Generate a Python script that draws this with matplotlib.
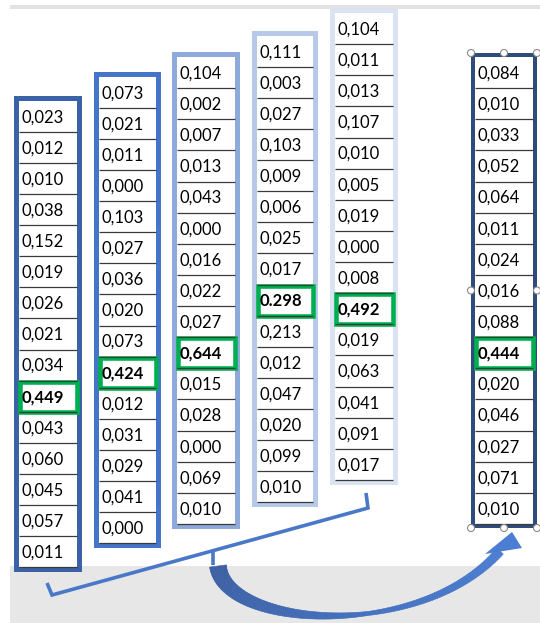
import numpy as np
import matplotlib
matplotlib.use("Agg")
import matplotlib.pyplot as plt
from matplotlib.patches import Rectangle, Polygon, Circle
from matplotlib.colors import to_rgb

# values of each column, top to bottom
col1 = ["0,023", "0,012", "0,010", "0,038", "0,152", "0,019", "0,026", "0,021",
        "0,034", "0,449", "0,043", "0,060", "0,045", "0,057", "0,011"]
col2 = ["0,073", "0,021", "0,011", "0,000", "0,103", "0,027", "0,036", "0,020",
        "0,073", "0,424", "0,012", "0,031", "0,029", "0,041", "0,000"]
col3 = ["0,104", "0,002", "0,007", "0,013", "0,043", "0,000", "0,016", "0,022",
        "0,027", "0,644", "0,015", "0,028", "0,000", "0,069", "0,010"]
col4 = ["0,111", "0,003", "0,027", "0,103", "0,009", "0,006", "0,025", "0,017",
        "0.298", "0,213", "0,012", "0,047", "0,020", "0,099", "0,010"]
col5 = ["0,104", "0,011", "0,013", "0,107", "0,010", "0,005", "0,019", "0,000",
        "0,008", "0,492", "0,019", "0,063", "0,041", "0,091", "0,017"]
result = ["0,084", "0,010", "0,033", "0,052", "0,064", "0,011", "0,024", "0,016",
          "0,088", "0,444", "0,020", "0,046", "0,027", "0,071", "0,010"]
highlight = [9, 9, 9, 8, 9, 9]

W, H = 540, 623
fig = plt.figure(figsize=(W / 100, H / 100), dpi=100)
ax = fig.add_axes([0, 0, 1, 1])
ax.set_xlim(0, W)
ax.set_ylim(H, 0)
ax.axis("off")

GREEN = "#00b050"

# background bands
ax.add_patch(Rectangle((10, 5), 530, 4, facecolor="#e2e2e2", edgecolor="none"))
ax.add_patch(Rectangle((10, 566), 530, 57, facecolor="#e7e7e7", edgecolor="none"))

# (x0, x1, y0, y1, border colour, border px) for each column frame
frames = [
    (14, 82, 96, 572, "#3b62a6", 5),
    (94, 161, 72, 548, "#4674c6", 5),
    (172, 240, 52, 529, "#8eaadb", 5),
    (252, 318, 31, 507, "#b7c9e8", 5),
    (330, 398, 8, 485, "#dbe3f3", 5),
    (471, 537, 53, 528, "#2f4b7c", 4),
]
columns = [col1, col2, col3, col4, col5, result]


def draw_column(vals, frame, hi):
    x0, x1, y0, y1, color, b = frame
    ax.add_patch(Rectangle((x0, y0), x1 - x0, y1 - y0, facecolor=color, edgecolor="none"))
    ix0, ix1, iy0, iy1 = x0 + b, x1 - b, y0 + b, y1 - b
    ax.add_patch(Rectangle((ix0, iy0), ix1 - ix0, iy1 - iy0, facecolor="white", edgecolor="none"))
    h = (iy1 - iy0) / len(vals)
    for i, v in enumerate(vals):
        top = iy0 + i * h
        ax.plot([ix0, ix1], [top + h, top + h], color="#3a3a3a", lw=0.9,
                solid_capstyle="butt")
        ax.text(ix0 + 3, top + h / 2 + 1, v, fontsize=12, family="Lato",
                fontweight="bold" if i == hi else "normal",
                ha="left", va="center", color="black")
    # green highlight of the maximum
    top = iy0 + hi * h
    ax.add_patch(Rectangle((ix0 + 0.5, top + 1), ix1 - ix0 - 1, h - 1, facecolor="none",
                           edgecolor=GREEN, lw=3.3, joinstyle="miter"))


for vals, frame, hi in zip(columns, frames, highlight):
    draw_column(vals, frame, hi)

# selection handles on the result column
x0, x1, y0, y1 = 471, 537, 53, 528
for hx, hy in [(x0, y0), ((x0 + x1) / 2, y0), (x1, y0), (x0, (y0 + y1) / 2),
               (x1, (y0 + y1) / 2), (x0, y1), ((x0 + x1) / 2, y1), (x1, y1)]:
    ax.add_patch(Circle((hx, hy), 3.5, facecolor="white", edgecolor="#8a8a8a", lw=0.8, zorder=5))

# bracket below the five columns
ax.plot([47, 52, 368, 366], [583, 595, 508, 493], color="#4a78c8", lw=2.6,
        solid_joinstyle="miter", solid_capstyle="butt")
ax.plot([213, 213], [551, 565], color="#4a78c8", lw=2.6, solid_capstyle="butt")

# curved tapered arrow to the result column
P = np.array([[218, 566], [225, 628], [420, 642], [500, 551]], dtype=float)
t = np.linspace(0, 1, 160)
tt = t[:, None]
curve = ((1 - tt) ** 3 * P[0] + 3 * (1 - tt) ** 2 * tt * P[1]
         + 3 * (1 - tt) * tt ** 2 * P[2] + tt ** 3 * P[3])
d = np.gradient(curve, axis=0)
n = np.stack([-d[:, 1], d[:, 0]], axis=1)
n /= np.linalg.norm(n, axis=1)[:, None]
w = np.interp(t, [0, 0.6, 1], [17, 4, 9]) / 2
left = curve + n * w[:, None]
right = curve - n * w[:, None]
c0, c1 = np.array(to_rgb("#3a5ea2")), np.array(to_rgb("#4b7dd2"))
for i in range(len(t) - 1):
    quad = [left[i], left[i + 1], right[i + 1], right[i]]
    col = c0 + (c1 - c0) * t[i]
    ax.add_patch(Polygon(quad, closed=True, facecolor=col, edgecolor=col, lw=0.4, zorder=4))
ax.add_patch(Polygon([[485, 554], [512, 532], [522, 548]], closed=True,
                     facecolor="#4b7dd2", edgecolor="none", zorder=4))

fig.savefig("out.png", dpi=100)
